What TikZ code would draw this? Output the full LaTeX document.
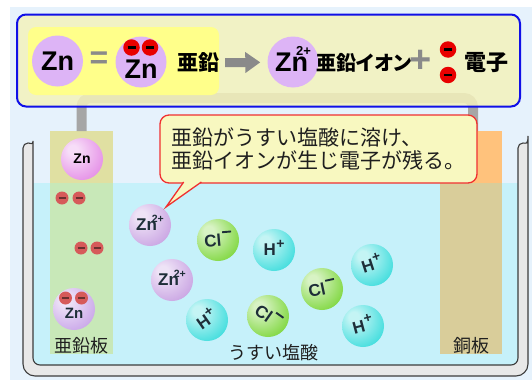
\documentclass[tikz,border=0pt]{standalone}
\usepackage{fontspec}
\usepackage{graphicx}
\setmainfont{Liberation Sans}
\newfontfamily\jp{Noto Sans CJK JP}
\usetikzlibrary{arrows.meta}

\definecolor{bgblue}{HTML}{E6F2FC}
\definecolor{liquidc}{HTML}{C6F1FA}
\definecolor{wallfill}{HTML}{E8E8E8}
\definecolor{walledge}{HTML}{3C3C3C}
\definecolor{zinctop}{HTML}{E0E0A2}
\definecolor{zincwet}{HTML}{C8E8B8}
\definecolor{cutop}{HTML}{FFC27C}
\definecolor{cuwet}{HTML}{D9CD9A}
\definecolor{wirec}{HTML}{A6A6A6}
\definecolor{boxfill}{HTML}{F4F2BC}
\definecolor{boxedge}{HTML}{1010E8}
\definecolor{hilite}{HTML}{FFFF8A}
\definecolor{topballc}{HTML}{DDB4F6}
\definecolor{gsymc}{HTML}{8A8A8A}
\definecolor{topelc}{HTML}{E80000}
\definecolor{callfill}{HTML}{F8F8C0}
\definecolor{calledge}{HTML}{F03030}
\definecolor{iontext}{HTML}{1E2E38}
\definecolor{znion}{HTML}{C8A2E2}
\definecolor{clion}{HTML}{7CD63A}
\definecolor{hion}{HTML}{3ADCDC}
\definecolor{znplate}{HTML}{E48CE6}
\definecolor{znlow}{HTML}{C8A4E8}
\definecolor{pelc}{HTML}{D65A5A}
\definecolor{pdash}{HTML}{6A3030}

% soft ball shading with a highlight up and to the left
\colorlet{ionbase}{gray}
\colorlet{ionlight}{white}
\pgfdeclareradialshading[ionbase,ionlight]{ionshade}{\pgfpoint{-12bp}{12bp}}{%
  color(0bp)=(ionlight); color(6bp)=(ionlight); color(36bp)=(ionbase); color(70bp)=(ionbase)}

\newcommand\edash[2][7pt]{\rule{#1}{#2}}
\newcommand\ionzn{Zn\kern-5pt\raisebox{8.5pt}[0pt][0pt]{\fontsize{10.5}{10.5}\selectfont 2+}}
\newcommand\ioncl{Cl\kern1.5pt\raisebox{12.5pt}[0pt][0pt]{\rule{9pt}{1.9pt}}}
\newcommand\ionh{H\kern0.5pt\raisebox{7.5pt}[0pt][0pt]{\fontsize{14}{14}\selectfont +}}

\begin{document}
\begin{tikzpicture}[x=1pt,y=-1pt,
  wall/.style={fill=wallfill, draw=walledge, line width=1.1pt},
  wire/.style={draw=wirec, line width=10pt, rounded corners=9pt},
  eqframe/.style={draw=boxedge, line width=2pt, fill=boxfill, fill opacity=.85,
    rounded corners=9pt, minimum width=503pt, minimum height=92pt},
  topball/.style={circle, fill=topballc, minimum size=51pt, inner sep=0pt,
    font=\bfseries\fontsize{27}{27}\selectfont},
  toptext/.style={font=\bfseries\fontsize{27}{27}\selectfont, inner sep=0pt},
  toplabel/.style={font=\jp\bfseries\fontsize{21}{21}\selectfont, inner sep=0pt},
  gsym/.style={text=gsymc, font=\bfseries\fontsize{#1}{#1}\selectfont, inner sep=0pt},
  topel/.style={circle, fill=topelc, minimum size=16.5pt, inner sep=0pt, text=black},
  garrow/.style={draw=gsymc, line width=9pt, -{Triangle[length=15pt,width=20pt]}},
  ion/.style={circle, minimum size=42pt, inner sep=0pt, shade, shading=ionshade,
    text=iontext, font=\bfseries\fontsize{17}{17}\selectfont,
    /utils/exec={\colorlet{ionbase}{#1}\colorlet{ionlight}{#1!30!white}}},
  pel/.style={circle, fill=pelc, minimum size=13pt, inner sep=0pt, text=pdash},
  callout/.style={draw=calledge, line width=1.3pt, fill=callfill, rounded corners=9pt,
    minimum width=317pt, minimum height=68pt, align=left,
    font=\jp\fontsize{21}{23}\selectfont, text=black!88},
  plabel/.style={font=\jp\fontsize{18}{18}\selectfont, text=black!88, inner sep=0pt}]

\useasboundingbox (0,0) rectangle (532,380);
\fill[white] (0,0) rectangle (532,380);
\fill[bgblue] (10,7) rectangle (532,380);

% hydrochloric acid and the beaker
\fill[liquidc] (33,183) rectangle (518,366);
\draw[wall] (23,148) {[rounded corners=12pt] -- (23,376) -- (528,376) -- (528,148)}
  arc[start angle=0, end angle=-180, radius=5]
  {[rounded corners=7pt] -- (518,365) -- (33,365) -- (33,148)}
  arc[start angle=0, end angle=-180, radius=5] -- cycle;

% zinc plate and copper plate
\fill[zinctop] (50,131) rectangle (113,183);
\fill[zincwet] (50,183) rectangle (113,354);
\fill[cutop] (440,131) rectangle (502,183);
\fill[cuwet] (440,183) rectangle (502,354);
\coordinate (znplatetop) at (81.5,131);
\coordinate (cuplatetop) at (473,131);

% wire joining the plates
\draw[wire] (znplatetop) -- ++(0,-33) -| (cuplatetop);

% equation panel
\node[eqframe] (eqbox) at (268.5,60.5) {};
\fill[hilite, rounded corners=8pt] (28,27) rectangle (219,95);

\node[topball] (zna) at (57.5,61) {Zn};
\node[gsym=32] (eqsign) at (99,60) {=};
\node[topball] (znb) at (141,62) {};
\node[toptext] (znbtext) at (141,69) {Zn};
\node[topel] (eb1) at (131.5,47.5) {\edash[8pt]{2.4pt}};
\node[topel] (eb2) at (150,47.5) {\edash[8pt]{2.4pt}};
\node[toplabel] (zinclbl) at (198,63) {亜鉛};
\node[topball] (znc) at (293,62)
  {Zn\kern-12pt\raisebox{16pt}[0pt][0pt]{\fontsize{13}{13}\selectfont 2+}};
\draw[garrow, shorten <=6pt, shorten >=7pt] (zinclbl) -- (znc);
\node[toplabel, font=\jp\bfseries\fontsize{20}{20}\selectfont] (ionlbl) at (364,63)
  {\addfontfeatures{RawFeature=+palt}亜鉛イオン};
\node[gsym=38] (plus) at (421,61) {+};
\node[topel] (ea) at (448,49.5) {\edash[8pt]{2.4pt}};
\node[topel] (eb) at (448,75) {\edash[8pt]{2.4pt}};
\node[toplabel, font=\jp\bfseries\fontsize{22}{22}\selectfont] (elbl) at (486,63) {電子};

% ions in the acid
\node[ion=znion] (zi1) at (150,225) {\ionzn};
\node[ion=znion] (zi2) at (172,280) {\ionzn};
\node[ion=clion] (cl1) at (218,240) {\rotatebox[origin=c]{5}{\ioncl}};
\node[ion=hion] (h1) at (274,250) {\ionh};
\node[ion=hion] (h2) at (207,320) {\rotatebox[origin=c]{35}{\ionh}};
\node[ion=clion] (cl2) at (268,316) {\rotatebox[origin=c]{-35}{\ioncl}};
\node[ion=clion] (cl3) at (322,289) {\rotatebox[origin=c]{12}{\ioncl}};
\node[ion=hion] (h3) at (372,265) {\rotatebox[origin=c]{18}{\ionh}};
\node[ion=hion] (h4) at (363,326) {\rotatebox[origin=c]{15}{\ionh}};

% zinc atoms and electrons on the zinc plate
\node[ion=znplate, text=black, font=\bfseries\fontsize{14}{14}\selectfont] (znp) at (82,159) {Zn};
\node[pel] (p1) at (62,198) {\edash{1.8pt}};
\node[pel] (p2) at (79,198) {\edash{1.8pt}};
\node[pel] (p3) at (81,248) {\edash{1.8pt}};
\node[pel] (p4) at (97,248) {\edash{1.8pt}};
\node[ion=znlow] (znl) at (74,309) {};
\node[text=iontext, font=\bfseries\fontsize{15}{15}\selectfont, inner sep=0pt] (znltext) at (74,313) {Zn};
\node[pel] (p5) at (65.5,298) {\edash{1.8pt}};
\node[pel] (p6) at (81.5,298) {\edash{1.8pt}};

% speech bubble
\node[callout] (note) at (318.5,149) {亜鉛がうすい塩酸に溶け、\\亜鉛イオンが生じ電子が残る。};
\fill[callfill] (166,207) -- (185.1,180) -- (204.25,180) -- cycle;
\draw[draw=calledge, line width=1.3pt, line join=miter] (183.7,182) -- (166,207) -- (201.4,182);

% labels
\node[plabel] (znname) at (81.5,346) {亜鉛板};
\node[plabel] (cuname) at (471,346) {銅板};
\node[plabel] (acidname) at (273,353) {うすい塩酸};
\end{tikzpicture}
\end{document}
